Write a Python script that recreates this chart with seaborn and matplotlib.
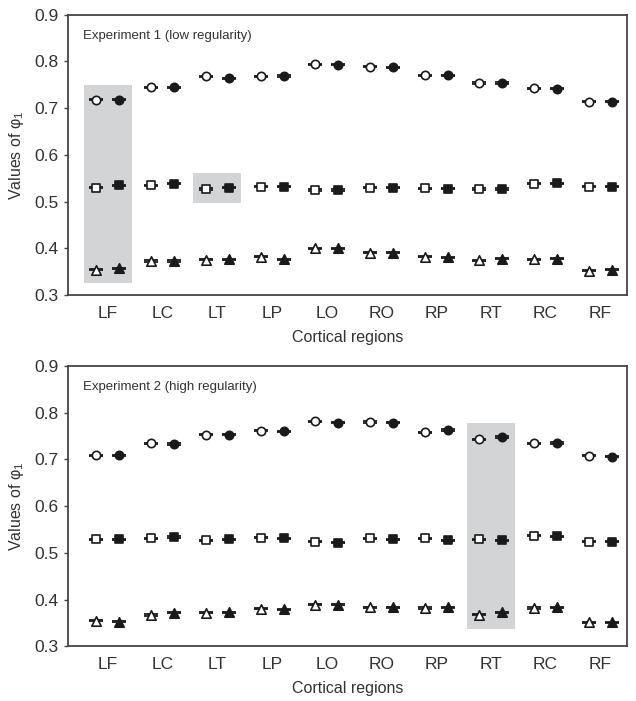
import numpy as np
import pandas as pd
import seaborn as sns
import matplotlib.pyplot as plt
from matplotlib.patches import Rectangle

# ==================== Data ====================

REGIONS = ['LF', 'LC', 'LT', 'LP', 'LO', 'RO', 'RP', 'RT', 'RC', 'RF']

# Experiment 1 (low regularity): open / filled for each family
EXP1_CIRCLE_OPEN = [0.718, 0.745, 0.768, 0.768, 0.794, 0.789, 0.770, 0.754, 0.743, 0.714]
EXP1_CIRCLE_FILL = [0.718, 0.745, 0.764, 0.769, 0.793, 0.788, 0.770, 0.754, 0.742, 0.714]
EXP1_SQUARE_OPEN = [0.530, 0.535, 0.527, 0.532, 0.525, 0.530, 0.529, 0.527, 0.538, 0.532]
EXP1_SQUARE_FILL = [0.535, 0.538, 0.530, 0.532, 0.525, 0.530, 0.528, 0.527, 0.539, 0.532]
EXP1_TRI_OPEN = [0.354, 0.373, 0.376, 0.382, 0.400, 0.391, 0.382, 0.375, 0.377, 0.352]
EXP1_TRI_FILL = [0.357, 0.373, 0.377, 0.377, 0.400, 0.391, 0.381, 0.378, 0.378, 0.354]

# Experiment 2 (high regularity)
EXP2_CIRCLE_OPEN = [0.709, 0.734, 0.753, 0.761, 0.782, 0.780, 0.758, 0.743, 0.734, 0.708]
EXP2_CIRCLE_FILL = [0.709, 0.733, 0.753, 0.760, 0.778, 0.778, 0.763, 0.748, 0.735, 0.706]
EXP2_SQUARE_OPEN = [0.529, 0.531, 0.527, 0.532, 0.524, 0.531, 0.531, 0.529, 0.537, 0.524]
EXP2_SQUARE_FILL = [0.529, 0.534, 0.529, 0.531, 0.522, 0.529, 0.527, 0.527, 0.535, 0.524]
EXP2_TRI_OPEN = [0.355, 0.367, 0.372, 0.380, 0.389, 0.384, 0.382, 0.368, 0.382, 0.351]
EXP2_TRI_FILL = [0.353, 0.372, 0.373, 0.379, 0.389, 0.384, 0.384, 0.373, 0.384, 0.351]

# Highlighted regions: (region, y_low, y_high)
EXP1_BOXES = [('LF', 0.326, 0.750), ('LT', 0.498, 0.561)]
EXP2_BOXES = [('RT', 0.337, 0.778)]

# ========================================================

BOX_GRAY = '#d3d4d5'
EDGE = '#1a1a1a'
OFFSET = 0.21


def build_frame(series):
    rows = []
    for (marker, fill), vals in series.items():
        for i, v in enumerate(vals):
            rows.append({'Region': REGIONS[i], 'idx': i, 'Marker': marker,
                         'Fill': fill, 'Value': v})
    return pd.DataFrame(rows)


def draw_panel(ax, df, title, boxes):
    for region, lo, hi in boxes:
        i = REGIONS.index(region)
        ax.add_patch(Rectangle((i - 0.44, lo), 0.88, hi - lo,
                               facecolor=BOX_GRAY, edgecolor='none', zorder=0))

    for (marker, fill), sub in df.groupby(['Marker', 'Fill']):
        x = sub['idx'].to_numpy() + (OFFSET if fill == 'filled' else -OFFSET)
        size = 46 if marker == '^' else 36
        # small error bars (caps show as horizontal ticks through markers)
        ax.errorbar(x, sub['Value'], yerr=0.0012, fmt='none', ecolor=EDGE,
                    elinewidth=1.0, capsize=5.2, capthick=1.3, zorder=2)
        sns.scatterplot(x=x, y=sub['Value'].to_numpy(), ax=ax, marker=marker,
                        s=size, color=EDGE if fill == 'filled' else 'white',
                        edgecolor=EDGE, linewidth=1.2, zorder=3, legend=False)

    ax.set_xlim(-0.73, len(REGIONS) - 1 + 0.49)
    ax.set_ylim(0.3, 0.9)
    ax.set_xticks(range(len(REGIONS)))
    ax.set_xticklabels(REGIONS)
    ax.set_yticks(np.arange(0.3, 0.91, 0.1))
    ax.set_yticklabels([f'{t:.1f}' for t in np.arange(0.3, 0.91, 0.1)])
    ax.tick_params(axis='x', bottom=False, length=0, pad=8, labelsize=12.5,
                   labelcolor='#333333')
    ax.tick_params(axis='y', left=True, length=3, width=1, pad=4, labelsize=12.5,
                   color='#444444', labelcolor='#333333', direction='out')
    for sp in ax.spines.values():
        sp.set_color('#444444')
        sp.set_linewidth(1.3)
    ax.set_xlabel('Cortical regions', fontsize=11.5, color='#333333', labelpad=6)
    ax.set_ylabel('Values of φ$_1$', fontsize=11.5, color='#333333', labelpad=6)
    ax.text(0.027, 0.945, title, transform=ax.transAxes, fontsize=9.5,
            color='#333333', ha='left', va='top')


def main():
    sns.set_style('white')
    plt.rcParams['font.family'] = ['Liberation Sans', 'DejaVu Sans']
    plt.rcParams['mathtext.fontset'] = 'custom'
    plt.rcParams['mathtext.rm'] = 'Liberation Sans'

    exp1 = build_frame({
        ('o', 'open'): EXP1_CIRCLE_OPEN, ('o', 'filled'): EXP1_CIRCLE_FILL,
        ('s', 'open'): EXP1_SQUARE_OPEN, ('s', 'filled'): EXP1_SQUARE_FILL,
        ('^', 'open'): EXP1_TRI_OPEN, ('^', 'filled'): EXP1_TRI_FILL,
    })
    exp2 = build_frame({
        ('o', 'open'): EXP2_CIRCLE_OPEN, ('o', 'filled'): EXP2_CIRCLE_FILL,
        ('s', 'open'): EXP2_SQUARE_OPEN, ('s', 'filled'): EXP2_SQUARE_FILL,
        ('^', 'open'): EXP2_TRI_OPEN, ('^', 'filled'): EXP2_TRI_FILL,
    })

    fig = plt.figure(figsize=(6.36, 7.01), dpi=100)
    ax1 = fig.add_axes([0.107, 0.579, 0.879, 0.400])
    ax2 = fig.add_axes([0.107, 0.078, 0.879, 0.400])

    draw_panel(ax1, exp1, 'Experiment 1 (low regularity)', EXP1_BOXES)
    draw_panel(ax2, exp2, 'Experiment 2 (high regularity)', EXP2_BOXES)

    fig.savefig('out.png', dpi=100, facecolor='white')
    plt.close(fig)


if __name__ == '__main__':
    main()
